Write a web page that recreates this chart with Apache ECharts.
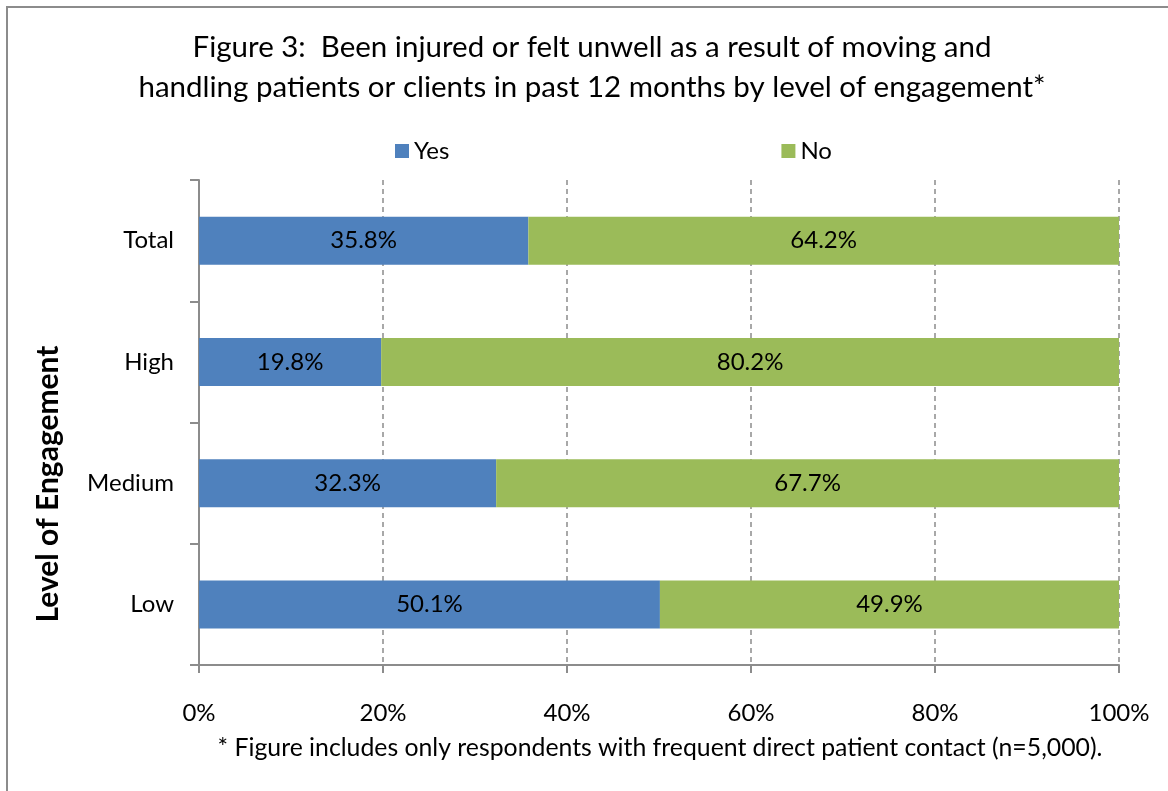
<!DOCTYPE html>
<html>
<head>
<meta charset="utf-8">
<script src="https://cdn.jsdelivr.net/npm/echarts@6/dist/echarts.min.js"></script>
<style>
  html, body { margin: 0; padding: 0; background: #fff; }
  #chart { width: 1168px; height: 791px; }
</style>
</head>
<body>
<div id="chart"></div>
<script>
// data
var categories = ['Low', 'Medium', 'High', 'Total'];
var yesValues = [50.1, 32.3, 19.8, 35.8];
var noValues = [49.9, 67.7, 80.2, 64.2];
var xTicks = [0, 20, 40, 60, 80, 100];

var FONT = 'Lato';
var LBL = 24;

var chart = echarts.init(document.getElementById('chart'));

var labelStyle = {
    show: true,
    position: 'inside',
    color: '#000',
    fontFamily: FONT,
    fontSize: LBL,
    formatter: function (p) { return p.value.toFixed(1) + '%'; }
};

var option = {
    animation: false,
    backgroundColor: '#fff',
    textStyle: { fontFamily: FONT },
    grid: { left: 199, right: 49, top: 180, bottom: 126 },
    legend: {
        data: ['Yes', 'No'],
        left: 390,
        top: 134,
        itemWidth: 14,
        itemHeight: 14,
        itemGap: 332,
        icon: 'rect',
        textStyle: { fontFamily: FONT, fontSize: LBL, color: '#000' }
    },
    xAxis: {
        type: 'value',
        min: 0,
        max: 100,
        interval: 20,
        axisLine: { show: true, lineStyle: { color: '#8c8c8c', width: 2 } },
        axisTick: { show: true, length: 8, lineStyle: { color: '#8c8c8c', width: 2 } },
        splitLine: { show: true, lineStyle: { color: '#8c8c8c', type: [5, 4], width: 1.5 } },
        axisLabel: {
            margin: 36,
            color: '#000',
            fontFamily: FONT,
            fontSize: LBL,
            formatter: function (v) { return xTicks.indexOf(v) >= 0 ? v + '%' : ''; }
        }
    },
    yAxis: {
        type: 'category',
        data: categories,
        axisLine: { show: true, lineStyle: { color: '#8c8c8c', width: 2 } },
        axisTick: { show: true, length: 9, alignWithLabel: false, lineStyle: { color: '#8c8c8c', width: 2 } },
        axisLabel: { margin: 25, color: '#000', fontFamily: FONT, fontSize: LBL }
    },
    series: [
        {
            name: 'Yes',
            type: 'bar',
            stack: 'total',
            barWidth: 48,
            data: yesValues,
            itemStyle: { color: '#4f81bd' },
            label: labelStyle
        },
        {
            name: 'No',
            type: 'bar',
            stack: 'total',
            barWidth: 48,
            data: noValues,
            itemStyle: { color: '#9bbb59' },
            label: labelStyle
        }
    ],
    graphic: [
        // outer frame (only top and left edges fall inside the picture)
        {
            type: 'polyline',
            shape: { points: [[7, 791], [7, 7], [1168, 7]] },
            style: { fill: null, stroke: '#8c8c8c', lineWidth: 2 },
            silent: true
        },
        {
            type: 'text',
            x: 592,
            y: 67,
            style: {
                text: 'Figure 3:  Been injured or felt unwell as a result of moving and\nhandling patients or clients in past 12 months by level of engagement*',
                font: '29.5px ' + FONT,
                fill: '#000',
                align: 'center',
                verticalAlign: 'middle',
                lineHeight: 40
            }
        },
        {
            type: 'text',
            x: 660,
            y: 748,
            style: {
                text: '* Figure includes only respondents with frequent direct patient contact (n=5,000).',
                font: '24.8px ' + FONT,
                fill: '#000',
                align: 'center',
                verticalAlign: 'middle'
            }
        },
        {
            type: 'text',
            x: 48,
            y: 484,
            rotation: Math.PI / 2,
            style: {
                text: 'Level of Engagement',
                font: 'bold 30px ' + FONT,
                fill: '#000',
                align: 'center',
                verticalAlign: 'middle'
            }
        }
    ]
};

chart.setOption(option);
</script>
</body>
</html>
